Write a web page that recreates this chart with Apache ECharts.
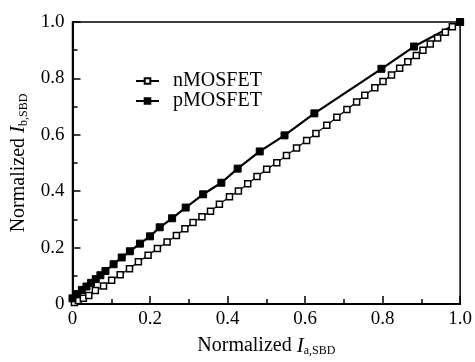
<!DOCTYPE html>
<html>
<head>
<meta charset="utf-8">
<script src="https://cdn.jsdelivr.net/npm/echarts@6/dist/echarts.min.js"></script>
<style>
  html, body { margin: 0; padding: 0; background: #fff; }
  #chart { width: 475px; height: 362px; }
</style>
</head>
<body>
<div id="chart"></div>
<script>
// values (normalized currents)
const nmosX = [0.005, 0.015, 0.028, 0.042, 0.059, 0.08, 0.101, 0.123, 0.147, 0.17, 0.195, 0.219, 0.244, 0.268, 0.29,
  0.311, 0.334, 0.356, 0.379, 0.405, 0.428, 0.452, 0.476, 0.501, 0.527, 0.552, 0.578, 0.604, 0.628, 0.656,
  0.682, 0.708, 0.733, 0.754, 0.78, 0.801, 0.823, 0.844, 0.865, 0.887, 0.904, 0.923, 0.942, 0.962, 0.98, 1.0];
const nmosY = [0.005, 0.012, 0.02, 0.03, 0.048, 0.064, 0.084, 0.104, 0.125, 0.15, 0.173, 0.197, 0.22, 0.243, 0.267,
  0.289, 0.309, 0.329, 0.354, 0.38, 0.401, 0.426, 0.452, 0.478, 0.501, 0.527, 0.553, 0.58, 0.605, 0.634,
  0.662, 0.69, 0.716, 0.74, 0.767, 0.789, 0.812, 0.836, 0.859, 0.881, 0.9, 0.922, 0.943, 0.964, 0.983, 1.0];

const pmosX = [0, 0.012, 0.024, 0.036, 0.048, 0.06, 0.072, 0.085, 0.106, 0.127, 0.148, 0.174, 0.2, 0.225, 0.257,
  0.292, 0.337, 0.384, 0.426, 0.483, 0.547, 0.624, 0.797, 0.881, 1.0];
const pmosY = [0.02, 0.035, 0.05, 0.062, 0.075, 0.088, 0.102, 0.117, 0.141, 0.165, 0.187, 0.214, 0.24, 0.272, 0.304,
  0.342, 0.389, 0.43, 0.48, 0.541, 0.598, 0.676, 0.834, 0.913, 1.0];

const serif = '"Liberation Serif", "DejaVu Serif", serif';
const pair = (xs, ys) => xs.map((x, i) => [x, ys[i]]);
const fmt = v => (v === 0 ? '0' : v.toFixed(1));

const axisCommon = {
  type: 'value',
  min: 0,
  max: 1,
  interval: 0.2,
  nameLocation: 'middle',
  axisLine: { lineStyle: { color: '#000', width: 2 } },
  axisTick: { inside: true, length: 8, lineStyle: { color: '#000', width: 1.5 } },
  minorTick: { show: true, splitNumber: 2, length: 5, lineStyle: { color: '#000', width: 1.5 } },
  splitLine: { show: false },
  axisLabel: { color: '#000', fontFamily: serif, fontSize: 19, formatter: fmt },
  nameTextStyle: {
    color: '#000', fontFamily: serif, fontSize: 20,
    rich: {
      t: { fontFamily: serif, fontSize: 20, color: '#000' },
      i: { fontFamily: serif, fontSize: 21, fontStyle: 'italic', color: '#000' },
      s: { fontFamily: serif, fontSize: 12, color: '#000', padding: [10, 0, 0, 0] }
    }
  }
};

const chart = echarts.init(document.getElementById('chart'));
chart.setOption({
  backgroundColor: '#fff',
  animation: false,
  grid: { left: 71, right: 14, top: 22, bottom: 50, show: true, borderColor: '#000', borderWidth: 1.5 },
  legend: {
    orient: 'vertical',
    left: 130,
    top: 66,
    itemWidth: 23,
    itemHeight: 7,
    itemGap: 0,
    textStyle: { color: '#000', fontFamily: serif, fontSize: 20, lineHeight: 16, padding: [0, 0, 0, 9] },
    data: ['nMOSFET', 'pMOSFET']
  },
  xAxis: Object.assign({}, axisCommon, {
    name: '{t|Normalized }{i|I}{s|a,SBD}',
    nameGap: 31,
    axisLabel: Object.assign({}, axisCommon.axisLabel, { margin: 6 })
  }),
  yAxis: Object.assign({}, axisCommon, {
    name: '{t|Normalized }{i|I}{s|b,SBD}',
    nameGap: 43,
    axisLabel: Object.assign({}, axisCommon.axisLabel, { margin: 8 })
  }),
  series: [
    {
      name: 'nMOSFET',
      type: 'line',
      data: pair(nmosX, nmosY),
      symbol: 'rect',
      symbolSize: 6,
      showAllSymbol: true,
      lineStyle: { color: '#000', width: 1.2 },
      itemStyle: { color: '#fff', borderColor: '#000', borderWidth: 1.5 }
    },
    {
      name: 'pMOSFET',
      type: 'line',
      data: pair(pmosX, pmosY),
      symbol: 'rect',
      symbolSize: 7,
      showAllSymbol: true,
      lineStyle: { color: '#000', width: 2.2 },
      itemStyle: { color: '#000', borderColor: '#000', borderWidth: 1 }
    }
  ]
});
</script>
</body>
</html>
